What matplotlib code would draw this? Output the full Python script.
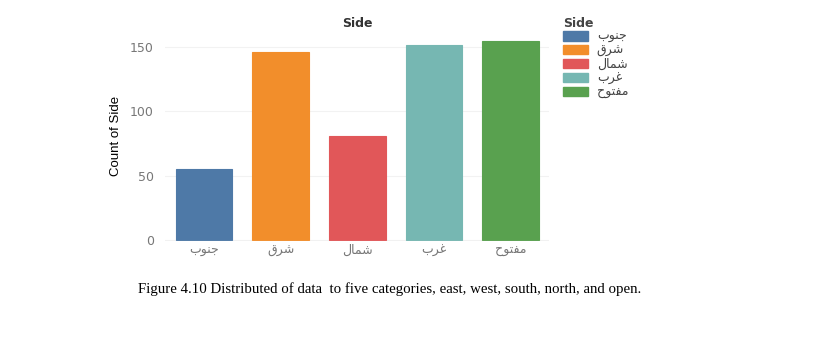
import numpy as np
import matplotlib
matplotlib.use('Agg')
import matplotlib.pyplot as plt
from matplotlib.patches import Patch

# data
sides = ['جنوب', 'شرق', 'شمال', 'غرب', 'مفتوح']
counts = [55, 146, 81, 152, 155]
colors = ['#4e79a7', '#f28e2b', '#e15759', '#76b7b2', '#59a14f']
yticks = [0, 50, 100, 150]
caption = 'Figure 4.10 Distributed of data  to five categories, east, west, south, north, and open.'

# minimal arabic shaping (matplotlib has no bidi/shaping)
# letter: (isolated, final, initial, medial)
FORMS = {
    'ا': (0xFE8D, 0xFE8E, None, None),
    'ب': (0xFE8F, 0xFE90, 0xFE91, 0xFE92),
    'ت': (0xFE95, 0xFE96, 0xFE97, 0xFE98),
    'ج': (0xFE9D, 0xFE9E, 0xFE9F, 0xFEA0),
    'ح': (0xFEA1, 0xFEA2, 0xFEA3, 0xFEA4),
    'ر': (0xFEAD, 0xFEAE, None, None),
    'ش': (0xFEB5, 0xFEB6, 0xFEB7, 0xFEB8),
    'غ': (0xFECD, 0xFECE, 0xFECF, 0xFED0),
    'ف': (0xFED1, 0xFED2, 0xFED3, 0xFED4),
    'ق': (0xFED5, 0xFED6, 0xFED7, 0xFED8),
    'ل': (0xFEDD, 0xFEDE, 0xFEDF, 0xFEE0),
    'م': (0xFEE1, 0xFEE2, 0xFEE3, 0xFEE4),
    'ن': (0xFEE5, 0xFEE6, 0xFEE7, 0xFEE8),
    'و': (0xFEED, 0xFEEE, None, None),
}

def shape(word):
    out = []
    n = len(word)
    for i, ch in enumerate(word):
        f = FORMS[ch]
        prev_joins = i > 0 and FORMS[word[i-1]][2] is not None
        next_ok = i < n - 1 and f[2] is not None
        if prev_joins and next_ok:
            cp = f[3]
        elif prev_joins:
            cp = f[1]
        elif next_ok:
            cp = f[2]
        else:
            cp = f[0]
        out.append(chr(cp))
    return ''.join(out[::-1])

labels = [shape(s) for s in sides]

plt.rcParams['font.family'] = ['DejaVu Sans']
fig = plt.figure(figsize=(8.16, 3.52), dpi=100)
ax = fig.add_axes([0.202, 0.315, 0.471, 0.6])

x = np.arange(len(sides))
ax.bar(x, counts, width=0.74, color=colors, edgecolor=colors, linewidth=0.8, zorder=2)
ax.set_xlim(-0.51, 4.5)
ax.set_ylim(-1, 163.5)
ax.set_yticks(yticks)
ax.set_xticks(x)
ax.set_xticklabels(labels)
ax.tick_params(axis='both', length=0, colors='#777777', labelsize=9)
ax.tick_params(axis='y', pad=8)
ax.tick_params(axis='x', pad=2)
ax.grid(axis='y', color='#f2f2f2', linewidth=0.8, zorder=0)
for s in ax.spines.values():
    s.set_visible(False)
ax.axhline(-1, color='#e8e8e8', linewidth=0.8)
ax.set_ylabel('Count of Side', fontsize=9.5, color='black', family='Liberation Sans', labelpad=6)
ax.set_title('Side', fontsize=9, fontweight='bold', color='#333333', pad=1)

handles = [Patch(facecolor=c, edgecolor=c) for c in colors]
leg = fig.legend(handles, labels, title='Side', loc='upper left', bbox_to_anchor=(0.69, 0.953),
                 frameon=False, fontsize=9, title_fontsize=9, handlelength=2.0, handleheight=0.75,
                 labelspacing=0.06, handletextpad=0.7, borderaxespad=0, borderpad=0)
leg.get_title().set_fontweight('bold')
leg.get_title().set_color('#444444')
leg._legend_box.align = 'left'
for t in leg.get_texts():
    t.set_color('#444444')

fig.text(0.477, 0.178, caption, ha='center', va='center', fontsize=10.7, family='Liberation Serif')

fig.savefig('out.png', dpi=100)
